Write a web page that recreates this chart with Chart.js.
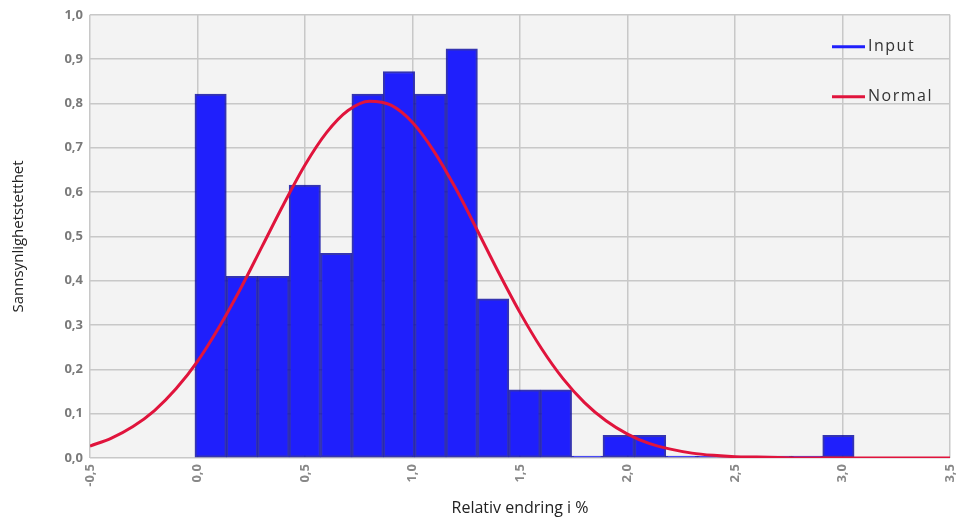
<!DOCTYPE html>
<html>
<head>
<meta charset="utf-8">
<script src="https://cdn.jsdelivr.net/npm/chart.js@4.4.0/dist/chart.umd.min.js"></script>
<style>
  html, body { margin: 0; padding: 0; background: #fff; overflow: hidden; }
  #wrap { width: 957px; height: 520px; }
</style>
</head>
<body>
<div id="wrap"><canvas id="histChart" width="957" height="520"></canvas></div>
<script>
// histogram: bin centres (relativ endring i %) and density per bin
const binCenters = [0.061, 0.207, 0.353, 0.499, 0.645, 0.791, 0.937, 1.083, 1.229, 1.375,
  1.521, 1.667, 1.813, 1.959, 2.105, 2.251, 2.397, 2.543, 2.689, 2.835, 2.981];
const binDensity = [0.821, 0.410, 0.410, 0.616, 0.462, 0.821, 0.872, 0.821, 0.923, 0.359,
  0.154, 0.154, 0, 0.051, 0.051, 0, 0, 0, 0, 0, 0.051];

// normal curve
const curveX = [-0.5, -0.4, -0.3, -0.2, -0.1, 0.0, 0.1, 0.2, 0.3, 0.4, 0.5, 0.6, 0.7, 0.8, 0.9,
  1.0, 1.1, 1.2, 1.3, 1.4, 1.5, 1.6, 1.7, 1.8, 1.9, 2.0, 2.1, 2.2, 2.3, 2.4, 2.5, 2.6, 2.7,
  2.8, 2.9, 3.0, 3.1, 3.2, 3.3, 3.4, 3.5];
const curveY = [0.027, 0.045, 0.071, 0.107, 0.156, 0.218, 0.295, 0.382, 0.477, 0.572, 0.661,
  0.734, 0.784, 0.805, 0.796, 0.757, 0.692, 0.609, 0.515, 0.419, 0.328, 0.247, 0.179, 0.125,
  0.084, 0.054, 0.033, 0.020, 0.011, 0.006, 0.003, 0.002, 0.001, 0, 0, 0, 0, 0, 0, 0, 0];

const seriesNames = ['Input', 'Normal'];
const legendColors = ['#1f1ffc', '#e0143c'];

const fmt = v => Number(v).toFixed(1).replace('.', ',');

// grey plot background
const plotBackground = {
  id: 'plotBackground',
  beforeDraw(chart) {
    const {ctx, chartArea} = chart;
    ctx.save();
    ctx.fillStyle = '#f3f3f3';
    ctx.fillRect(chartArea.left, chartArea.top, chartArea.right - chartArea.left, chartArea.bottom - chartArea.top);
    ctx.restore();
  }
};

// legend sits inside the plot, top right
const insideLegend = {
  id: 'insideLegend',
  afterDraw(chart) {
    const {ctx, chartArea} = chart;
    ctx.save();
    ctx.font = '16px "Open Sans"';
    ctx.letterSpacing = '1.5px';
    ctx.textBaseline = 'middle';
    seriesNames.forEach((name, i) => {
      const x = chart.width - 125;
      const y = chartArea.top + 32 + i * 50;
      ctx.strokeStyle = legendColors[i];
      ctx.lineWidth = 3;
      ctx.beginPath();
      ctx.moveTo(x, y);
      ctx.lineTo(x + 33, y);
      ctx.stroke();
      ctx.fillStyle = '#333';
      ctx.fillText(name, x + 36, y);
    });
    ctx.restore();
  }
};

const ctx = document.getElementById('histChart').getContext('2d');

new Chart(ctx, {
  data: {
    datasets: [
      {
        type: 'bar',
        label: seriesNames[0],
        data: binCenters.map((x, i) => ({x: x, y: binDensity[i]})),
        backgroundColor: '#1f1ffc',
        borderColor: 'rgba(18, 18, 165, 0.85)',
        borderWidth: 2,
        borderSkipped: false,
        barPercentage: 1,
        categoryPercentage: 1,
        minBarLength: 2,
        order: 2
      },
      {
        type: 'line',
        label: seriesNames[1],
        data: curveX.map((x, i) => ({x: x, y: curveY[i]})),
        borderColor: '#e0143c',
        borderWidth: 3,
        pointRadius: 0,
        cubicInterpolationMode: 'monotone',
        order: 1
      }
    ]
  },
  options: {
    responsive: false,
    animation: false,
    layout: { padding: { top: 12, left: 0, right: 0, bottom: 0 } },
    scales: {
      x: {
        type: 'linear',
        min: -0.5,
        max: 3.5,
        offset: false,
        afterFit: scale => {
          scale.height = 62;
          scale.paddingLeft = 0;
          scale.paddingRight = 7;
        },
        grid: { color: '#c8c8c8', lineWidth: 1.5, drawTicks: false, offset: false },
        border: { display: false },
        ticks: {
          stepSize: 0.5,
          autoSkip: false,
          minRotation: 90,
          maxRotation: 90,
          padding: 6,
          color: '#888',
          font: { family: 'Open Sans', size: 13, weight: 'bold' },
          callback: v => fmt(v)
        },
        title: {
          display: true,
          text: 'Relativ endring i %',
          color: '#222',
          font: { family: 'Open Sans', size: 16 },
          padding: { top: 0, bottom: 2 }
        }
      },
      y: {
        min: 0,
        max: 1,
        afterFit: scale => { scale.width = 90; },
        grid: { color: '#c8c8c8', lineWidth: 1.5, drawTicks: false },
        border: { display: false },
        ticks: {
          stepSize: 0.1,
          padding: 7,
          color: '#7a7a7a',
          font: { family: 'Open Sans', size: 13, weight: 'bold' },
          callback: v => fmt(v)
        },
        title: {
          display: true,
          text: 'Sannsynlighetstetthet',
          color: '#222',
          font: { family: 'Open Sans', size: 15 },
          padding: { top: 10, bottom: 0 }
        }
      }
    },
    plugins: {
      legend: { display: false },
      tooltip: { enabled: false }
    }
  },
  plugins: [plotBackground, insideLegend]
});
</script>
</body>
</html>
